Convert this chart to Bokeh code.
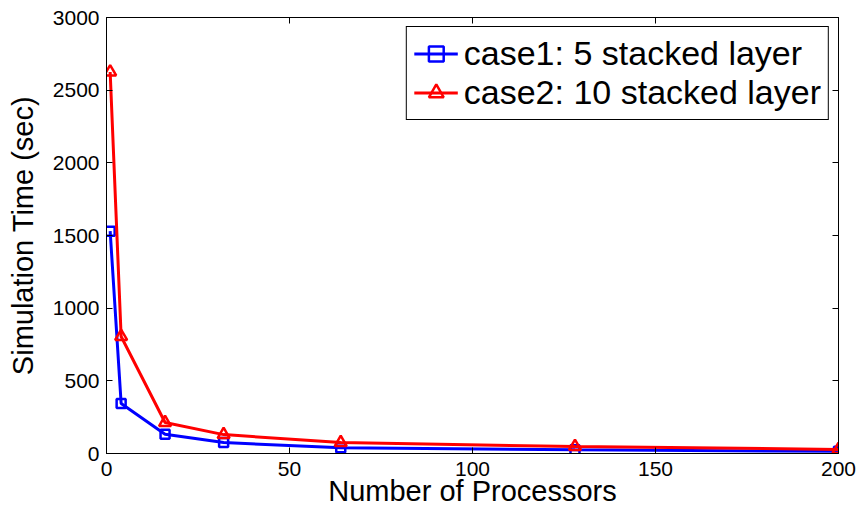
from bokeh.plotting import figure
from bokeh.models import LinearAxis, Range1d, FixedTicker, Legend, LegendItem
from bokeh.embed import file_html
from bokeh.resources import INLINE

processors = [1, 4, 16, 32, 64, 128, 200]
case1 = [1530, 344, 132, 75, 40, 25, 15]
case2 = [2625, 805, 213, 130, 75, 48, 28]
x_ticks = [0, 50, 100, 150, 200]
y_ticks = [0, 500, 1000, 1500, 2000, 2500, 3000]

FONT = "Liberation Sans"

p = figure(width=861, height=515, output_backend="svg", toolbar_location=None,
           x_range=Range1d(0, 200), y_range=Range1d(0, 3000),
           min_border_left=106, min_border_right=23, min_border_top=17, min_border_bottom=62)
p.grid.visible = False
p.outline_line_color = "black"
p.outline_line_width = 1

for ax in (p.xaxis[0], p.yaxis[0]):
    ax.major_tick_in = 6
    ax.major_tick_out = 0
    ax.minor_tick_line_color = None
    ax.axis_line_color = "black"
    ax.major_label_text_font = FONT
    ax.major_label_text_font_size = "21px"
    ax.major_label_text_color = "black"
    ax.axis_label_text_font = FONT
    ax.axis_label_text_font_size = "29px"
    ax.axis_label_text_font_style = "normal"
    ax.axis_label_text_color = "black"

p.xaxis.major_label_standoff = 8
p.yaxis.major_label_standoff = 7
p.xaxis.ticker = FixedTicker(ticks=x_ticks)
p.yaxis.ticker = FixedTicker(ticks=y_ticks)
p.xaxis.axis_label = "Number of Processors"
p.yaxis.axis_label = "Simulation Time (sec)"
p.xaxis.axis_label_standoff = -4
p.yaxis.axis_label_standoff = 11

top = LinearAxis(ticker=FixedTicker(ticks=x_ticks), major_tick_in=6, major_tick_out=0,
                 minor_tick_line_color=None, major_label_text_font_size="0px")
right = LinearAxis(ticker=FixedTicker(ticks=y_ticks), major_tick_in=6, major_tick_out=0,
                   minor_tick_line_color=None, major_label_text_font_size="0px")
top.major_label_text_color = None
right.major_label_text_color = None
p.add_layout(top, "above")
p.add_layout(right, "right")

l1 = p.line(processors, case1, line_color="#0000ff", line_width=3)
m1 = p.scatter(processors, case1, marker="square", size=9, line_color="#0000ff",
               fill_color=None, line_width=2.5)
l2 = p.line(processors, case2, line_color="#ff0000", line_width=3)
m2 = p.scatter(processors, case2, marker="triangle", size=12, line_color="#ff0000",
               fill_color=None, line_width=2.5)

legend = Legend(items=[LegendItem(label="case1: 5 stacked layer", renderers=[l1, m1]),
                       LegendItem(label="case2: 10 stacked layer", renderers=[l2, m2])],
                location="top_right")
legend.label_text_font = FONT
legend.label_text_font_size = "34px"
legend.label_text_color = "black"
legend.label_height = 37
legend.glyph_width = 44
legend.glyph_height = 37
legend.spacing = 0
legend.padding = 7
legend.margin = 9
legend.label_standoff = 6
legend.border_line_color = "black"
legend.border_line_width = 1
legend.border_line_alpha = 1
legend.background_fill_alpha = 1
p.add_layout(legend, "center")

open("out.html", "w").write(file_html(p, INLINE))
